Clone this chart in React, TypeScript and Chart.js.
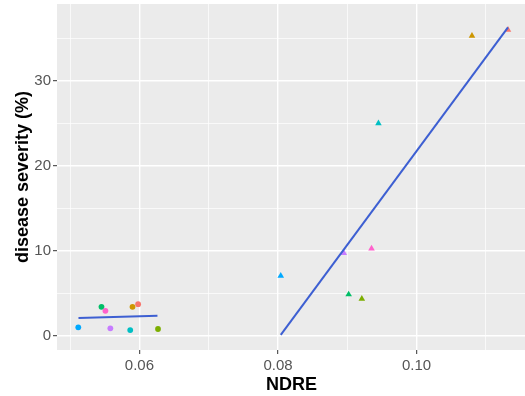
import React, { useEffect, useRef } from 'react';
import { Chart, registerables } from 'chart.js';

Chart.register(...registerables);

// ggplot hue palette, one colour per group
const groupColors = ['#F8766D', '#CD9600', '#7CAE00', '#00BE67', '#00BFC4', '#00A9FF', '#C77CFF', '#FF61CC'];

// circles (low NDRE cluster), same group order as colours
const circleX = [0.05981, 0.0590, 0.06268, 0.05452, 0.05867, 0.05117, 0.0558, 0.05509];
const circleY = [3.72, 3.40, 0.79, 3.40, 0.67, 0.99, 0.87, 2.93];

// triangles (high NDRE group), same group order as colours
const triangleX = [0.1132, 0.1080, 0.0921, 0.0902, 0.0945, 0.0804, 0.0895, 0.0935];
const triangleY = [36.0, 35.3, 4.34, 4.86, 25.0, 7.04, 9.74, 10.26];

// fitted lines
const lowLineX = [0.0512, 0.0626];
const lowLineY = [2.1, 2.35];
const highLineX = [0.0804, 0.1132];
const highLineY = [0.1, 36.3];

// axes
const xMajorTicks = [0.06, 0.08, 0.1];
const xMinorTicks = [0.05, 0.07, 0.09, 0.11];
const yMajorTicks = [0, 10, 20, 30];
const yMinorTicks = [5, 15, 25, 35];
const xRange = [0.0481, 0.1158];
const yRange = [-1.68, 39.05];
const xTitle = 'NDRE';
const yTitle = 'disease severity (%)';

const isIn = (arr: number[], v: number) => arr.some((a) => Math.abs(a - v) < 1e-9);

const panelBg = {
  id: 'panelBg',
  beforeDraw(chart: any) {
    const { ctx, chartArea } = chart;
    ctx.save();
    ctx.fillStyle = '#FFFFFF';
    ctx.fillRect(0, 0, chart.width, chart.height);
    ctx.fillStyle = '#EBEBEB';
    ctx.fillRect(chartArea.left, chartArea.top, chartArea.right - chartArea.left, chartArea.bottom - chartArea.top);
    ctx.restore();
  },
};

const FONT = "'Liberation Sans', Arial, sans-serif";
const LINE_COLOR = '#3D5FD2';

export default function App() {
  const ref = useRef<HTMLCanvasElement>(null);

  useEffect(() => {
    document.body.style.margin = '0';
    const circles = circleX.map((x, i) => ({ x, y: circleY[i] }));
    const triangles = triangleX.map((x, i) => ({ x, y: triangleY[i] }));
    const lowLine = lowLineX.map((x, i) => ({ x, y: lowLineY[i] }));
    const highLine = highLineX.map((x, i) => ({ x, y: highLineY[i] }));

    const chart = new Chart(ref.current as HTMLCanvasElement, {
      type: 'scatter',
      data: {
        datasets: [
          {
            data: lowLine,
            showLine: true,
            borderColor: LINE_COLOR,
            borderWidth: 2,
            pointRadius: 0,
            order: 0,
          } as any,
          {
            data: highLine,
            showLine: true,
            borderColor: LINE_COLOR,
            borderWidth: 2,
            pointRadius: 0,
            order: 0,
          } as any,
          {
            data: circles,
            pointStyle: 'circle',
            pointRadius: 2.9,
            backgroundColor: groupColors,
            borderColor: groupColors,
            borderWidth: 0,
            order: 1,
          } as any,
          {
            data: triangles,
            pointStyle: 'triangle',
            pointRadius: 3.8,
            backgroundColor: groupColors,
            borderColor: groupColors,
            borderWidth: 0,
            order: 1,
          } as any,
        ],
      },
      options: {
        responsive: false,
        animation: false,
        devicePixelRatio: 1,
        layout: { padding: { top: 3, left: 0, right: 0, bottom: 0 } },
        plugins: { legend: { display: false }, tooltip: { enabled: false } },
        scales: {
          x: {
            type: 'linear',
            min: xRange[0],
            max: xRange[1],
            afterBuildTicks: (scale: any) => {
              scale.ticks = [...xMinorTicks, ...xMajorTicks].sort((a, b) => a - b).map((v) => ({ value: v }));
            },
            afterFit: (scale: any) => {
              scale.height = 46;
              scale.paddingLeft = 0;
              scale.paddingRight = 0;
            },
            grid: {
              color: '#FFFFFF',
              lineWidth: (c: any) => (isIn(xMajorTicks, c.tick.value) ? 1.4 : 0.7),
              tickColor: (c: any) => (isIn(xMajorTicks, c.tick.value) ? '#333333' : 'rgba(0,0,0,0)'),
              tickLength: 4,
              tickWidth: 1,
            },
            border: { display: false },
            ticks: {
              autoSkip: false,
              maxRotation: 0,
              padding: 3,
              color: '#555555',
              font: { family: FONT, size: 15 },
              callback: (v: any) => (isIn(xMajorTicks, Number(v)) ? Number(v).toFixed(2) : ''),
            },
            title: {
              display: true,
              text: xTitle,
              color: '#000000',
              font: { family: FONT, size: 18, weight: 'bold' },
              padding: { top: 0, bottom: 0 },
            },
          },
          y: {
            type: 'linear',
            min: yRange[0],
            max: yRange[1],
            afterBuildTicks: (scale: any) => {
              scale.ticks = [...yMinorTicks, ...yMajorTicks].sort((a, b) => a - b).map((v) => ({ value: v }));
            },
            afterFit: (scale: any) => {
              scale.width = 57;
              scale.paddingTop = 0;
              scale.paddingBottom = 0;
            },
            grid: {
              color: '#FFFFFF',
              lineWidth: (c: any) => (isIn(yMajorTicks, c.tick.value) ? 1.4 : 0.7),
              tickColor: (c: any) => (isIn(yMajorTicks, c.tick.value) ? '#333333' : 'rgba(0,0,0,0)'),
              tickLength: 4,
              tickWidth: 1,
            },
            border: { display: false },
            ticks: {
              autoSkip: false,
              padding: 2,
              color: '#555555',
              font: { family: FONT, size: 15 },
              callback: (v: any) => (isIn(yMajorTicks, Number(v)) ? String(v) : ''),
            },
            title: {
              display: true,
              text: yTitle,
              color: '#000000',
              font: { family: FONT, size: 18, weight: 'bold' },
              padding: { top: 12, bottom: 0 },
            },
          },
        },
      },
      plugins: [panelBg],
    });
    return () => chart.destroy();
  }, []);

  return (
    <div style={{ position: 'absolute', left: 0, top: 0, width: 525, height: 396, overflow: 'hidden', background: '#fff' }}>
      <canvas ref={ref} width={530} height={396} style={{ display: 'block', width: 530, height: 396 }} />
    </div>
  );
}
